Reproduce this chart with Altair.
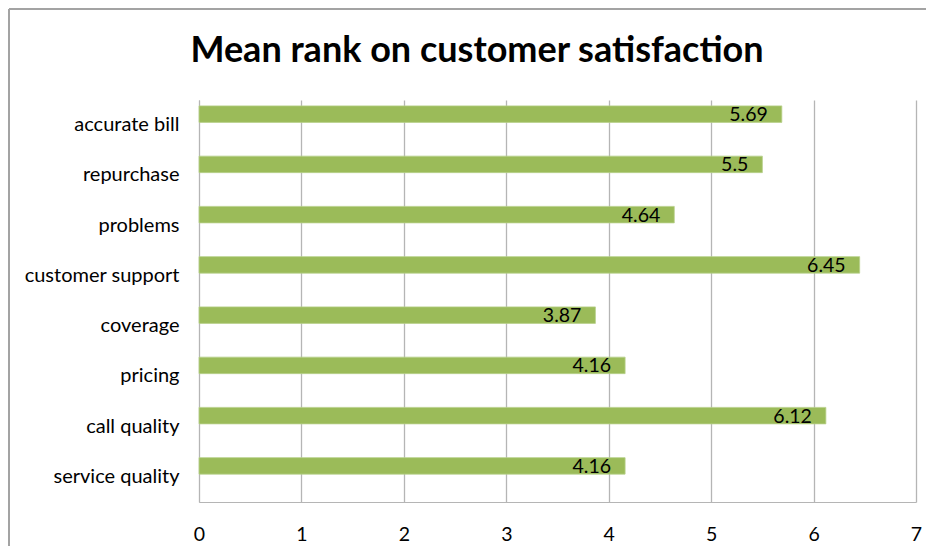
import altair as alt
import pandas as pd

categories = ["accurate bill", "repurchase", "problems", "customer support",
              "coverage", "pricing", "call quality", "service quality"]
values = [5.69, 5.5, 4.64, 6.45, 3.87, 4.16, 6.12, 4.16]
x_ticks = [0, 1, 2, 3, 4, 5, 6, 7]
title_text = "Mean rank on customer satisfaction"

df = pd.DataFrame({"category": categories, "value": values})

FONT = "Lato"
GRID = "#b5b5b5"
BORDER = "#a3a3a3"

y_enc = alt.Y("category:N", sort=categories, title=None,
              scale=alt.Scale(paddingInner=0, paddingOuter=0),
              axis=alt.Axis(labelFontSize=20, labelFont=FONT, labelColor="#000000",
                            labelPadding=20, ticks=False, domain=True,
                            domainColor=GRID, grid=False))
x_enc = alt.X("value:Q", title=None,
              scale=alt.Scale(domain=[0, 7], nice=False),
              axis=alt.Axis(values=x_ticks, format="d", labelFontSize=19.5, labelFont=FONT,
                            labelColor="#000000", labelPadding=23, ticks=False,
                            domain=True, domainColor=GRID, grid=True,
                            gridColor=GRID, gridWidth=1.3, labelFlush=False))

bars = alt.Chart(df).mark_bar(color="#9BBB59", height=16.5, yOffset=-11,
                              stroke="#b7d08a", strokeWidth=0.8).encode(y=y_enc, x=x_enc)

labels = alt.Chart(df).mark_text(align="right", baseline="middle", dx=-14, yOffset=-10,
                                 font=FONT, fontSize=19.5, color="#000000").encode(
    y=alt.Y("category:N", sort=categories),
    x=alt.X("value:Q"),
    text=alt.Text("value:Q"))

one = pd.DataFrame({"t": [title_text]})
title = alt.Chart(one).mark_text(align="center", baseline="alphabetic", font=FONT,
                                 fontSize=36, fontWeight="bold", color="#000000").encode(
    x=alt.value(278), y=alt.value(-38), text="t:N")
top_border = alt.Chart(one).mark_rule(color=BORDER, strokeWidth=2).encode(
    x=alt.value(-190), x2=alt.value(740), y=alt.value(-91))
left_border = alt.Chart(one).mark_rule(color=BORDER, strokeWidth=2).encode(
    x=alt.value(-190), y=alt.value(-91), y2=alt.value(460))

chart = alt.layer(bars, labels, title, top_border, left_border).properties(
    width=717, height=402,
    autosize=alt.AutoSizeParams(type="none"),
    padding={"left": 191, "top": 92, "right": 10, "bottom": 44},
).configure_view(stroke=None)

chart.save("out.html", embed_options={"renderer": "svg", "actions": False})
